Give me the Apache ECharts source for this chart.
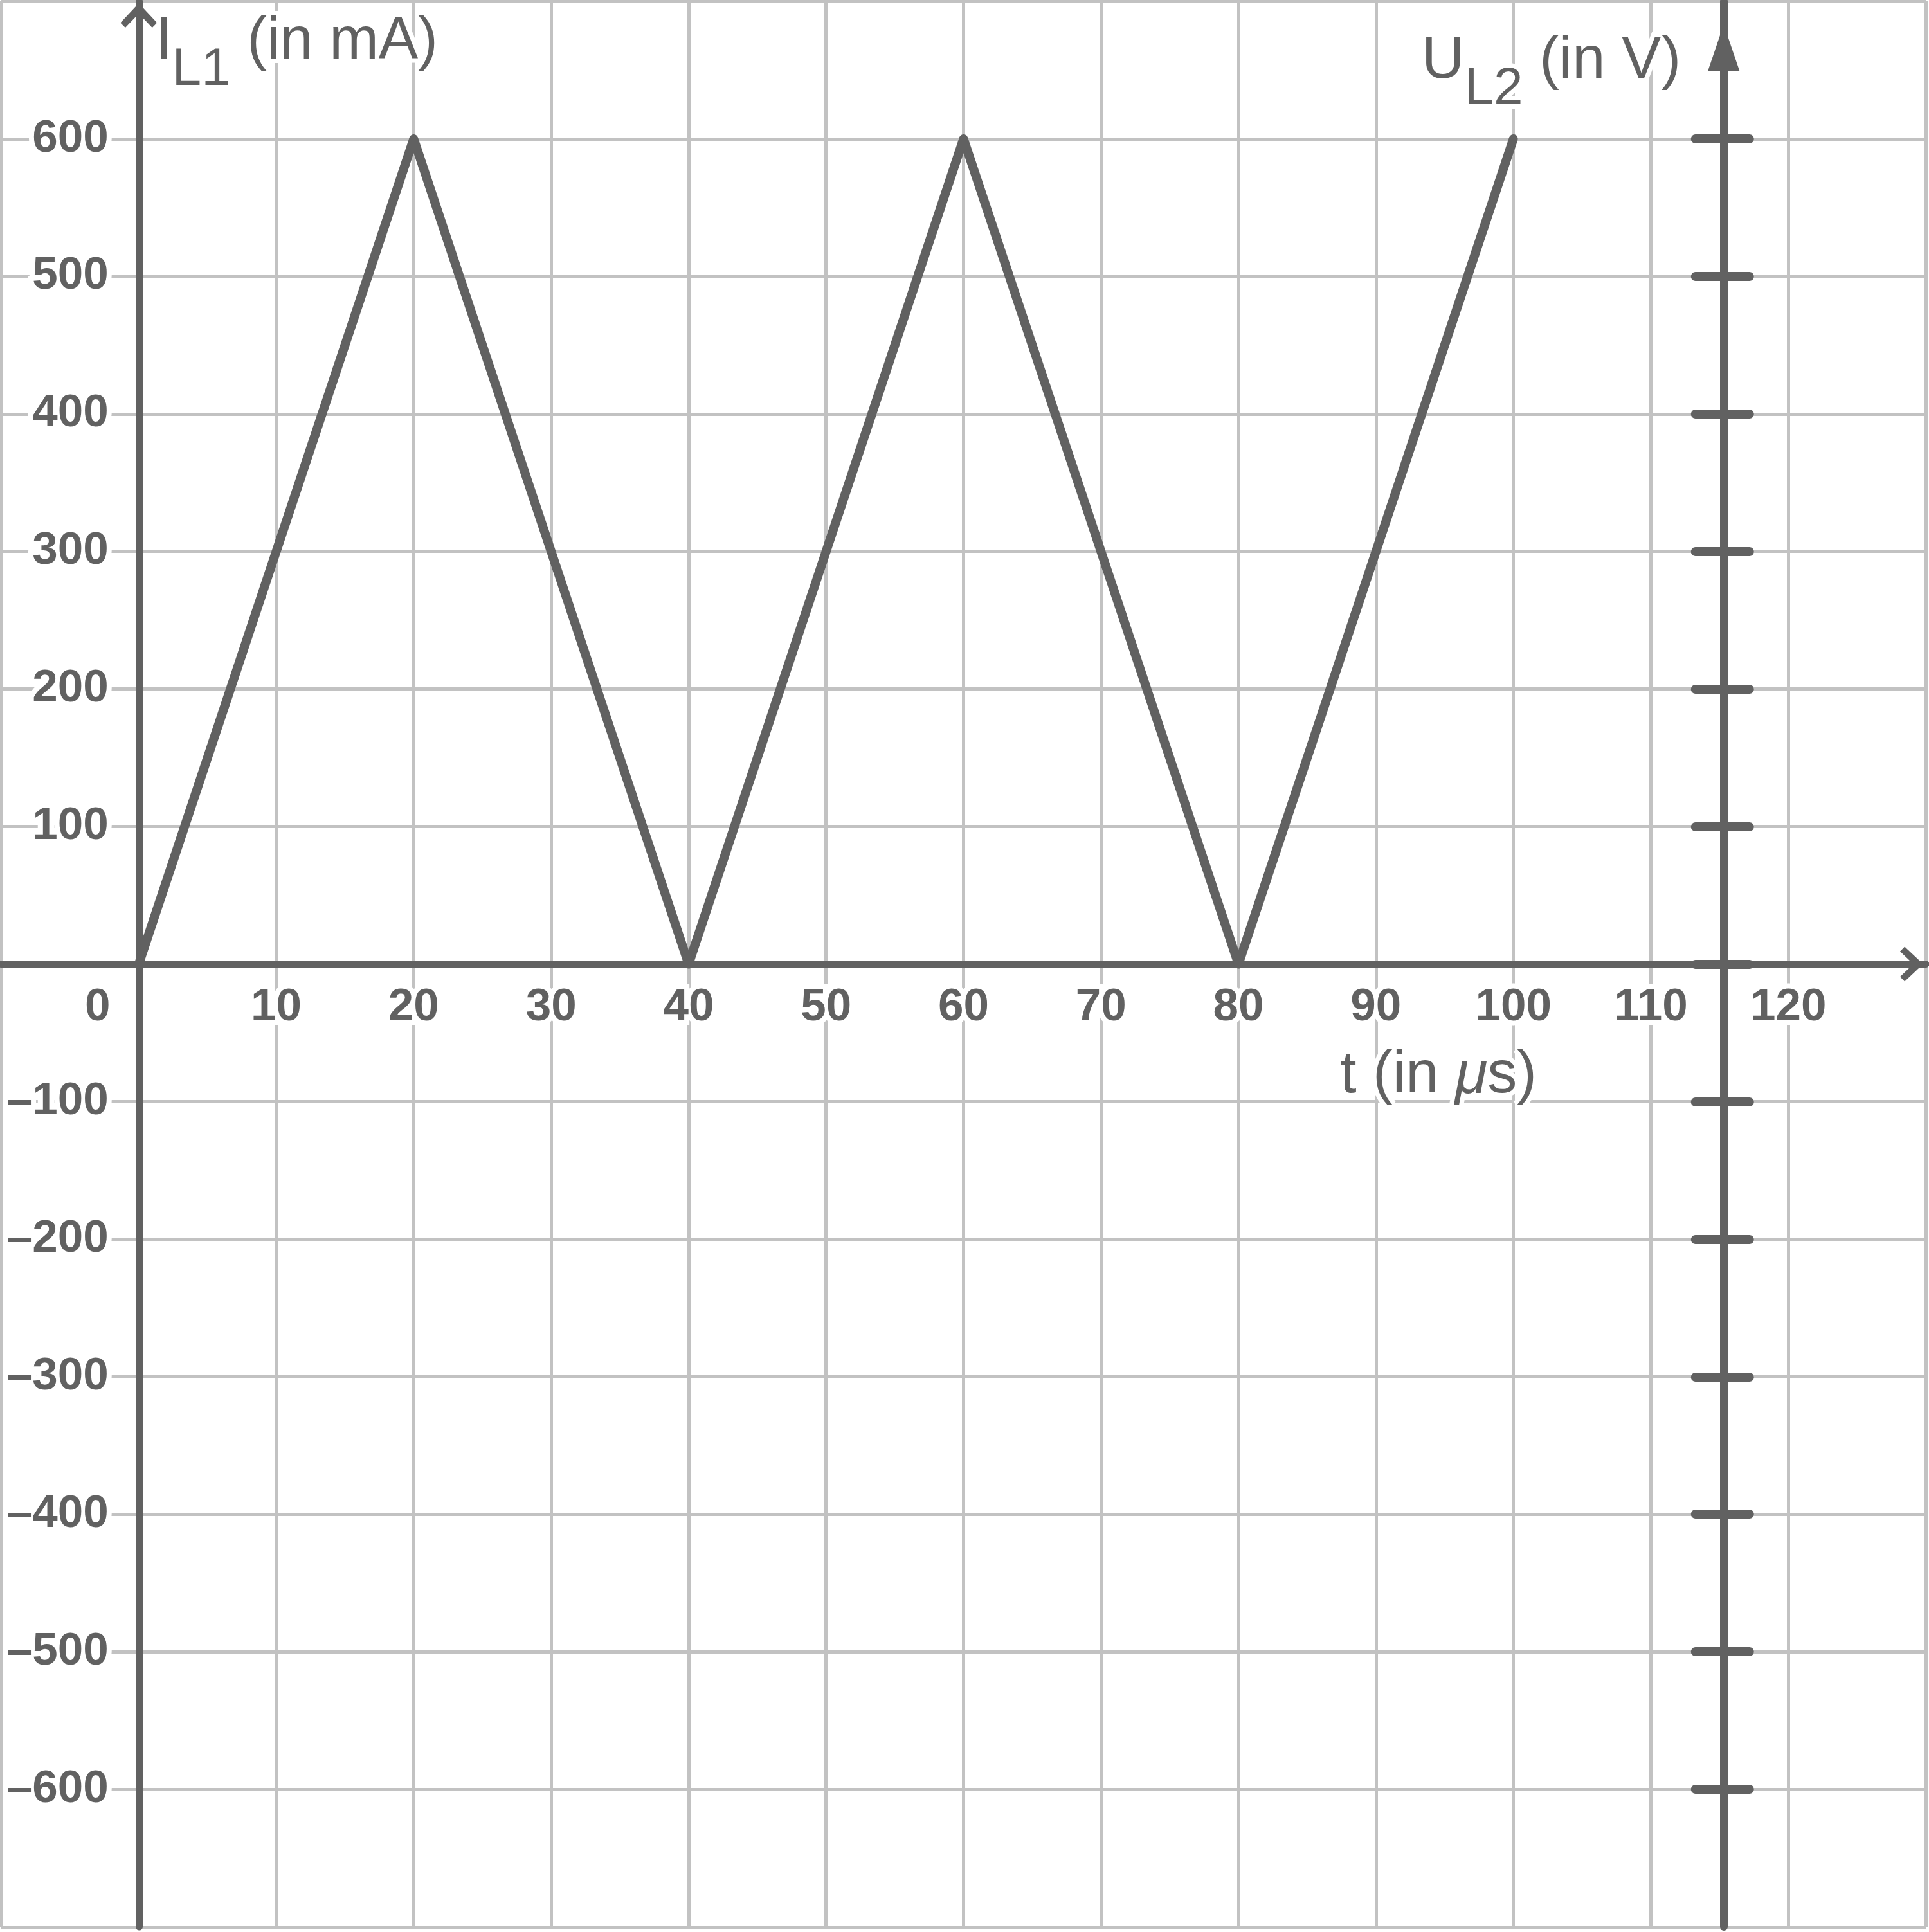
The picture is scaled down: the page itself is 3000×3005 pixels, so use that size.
<!DOCTYPE html>
<html>
<head>
<meta charset="utf-8">
<script src="https://cdn.jsdelivr.net/npm/echarts@6/dist/echarts.min.js"></script>
<style>
html, body { margin: 0; padding: 0; background: #fff; }
#chart { width: 3000px; height: 3005px; }
</style>
</head>
<body>
<div id="chart"></div>
<script>
// triangle current I_L1 over time t
var tValues = [0, 20, 40, 60, 80, 100];
var currentValues = [0, 600, 0, 600, 0, 600];

// tick labels
var xTickLabels = [0, 10, 20, 30, 40, 50, 60, 70, 80, 90, 100, 110, 120];
var yTickLabels = [600, 500, 400, 300, 200, 100, -100, -200, -300, -400, -500, -600];
var uTickValues = [600, 500, 400, 300, 200, 100, 0, -100, -200, -300, -400, -500, -600];

var X_MIN = -10, X_MAX = 130, Y_MIN = -700, Y_MAX = 700;
var U_AXIS_X = 115.3;   // where the U_L2 axis stands, in t units

var DARK = '#616161';
var GRIDC = '#c2c2c2';
var FONT = 'Liberation Sans';
var GRID = { left: 2, right: 5, top: 2, bottom: 8, outerBoundsMode: 'none', containLabel: false };

// open arrow head, pointing up
var chevron = 'path://M30,0 L60,32 L52,40 L30,17 L8,40 L0,32 Z';

var myChart = echarts.init(document.getElementById('chart'));
var gridW = myChart.getWidth() - GRID.left - GRID.right;
var gridH = myChart.getHeight() - GRID.top - GRID.bottom;
// axes are moved into the plot by offsets so they cross at t = 0, I = 0
var uOffset = -((X_MAX - U_AXIS_X) / (X_MAX - X_MIN) * gridW);
var yOffset = -((0 - X_MIN) / (X_MAX - X_MIN) * gridW);
var xOffset = -((0 - Y_MIN) / (Y_MAX - Y_MIN) * gridH);

var labelBase = {
    fontFamily: FONT,
    fontSize: 71,
    fontWeight: 'bold',
    color: DARK,
    textBorderColor: '#fff',
    textBorderWidth: 16
};

function uAxis(showLine, inside, len) {
    return {
        type: 'value',
        position: 'right',
        offset: uOffset,
        min: Y_MIN,
        max: Y_MAX,
        interval: 100,
        axisLine: {
            show: showLine,
            onZero: false,
            symbol: ['none', 'triangle'],
            symbolSize: [49, 72],
            symbolOffset: [0, -72],
            lineStyle: { color: DARK, width: 12 }
        },
        axisTick: {
            show: true,
            inside: inside,
            length: len,
            customValues: uTickValues,
            lineStyle: { color: DARK, width: 14, cap: 'round' }
        },
        axisLabel: { show: false },
        splitLine: { show: false }
    };
}

var option = {
    animation: false,
    backgroundColor: '#fff',
    grid: GRID,
    xAxis: {
        type: 'value',
        position: 'bottom',
        offset: xOffset,
        min: X_MIN,
        max: X_MAX,
        interval: 10,
        axisLine: {
            onZero: false,
            symbol: ['none', chevron],
            symbolSize: [64, 36],
            symbolOffset: [0, -22],
            lineStyle: { color: DARK, width: 11 }
        },
        axisTick: { show: false },
        splitLine: { show: true, lineStyle: { color: GRIDC, width: 5 } },
        axisLabel: Object.assign({}, labelBase, {
            customValues: xTickLabels,
            margin: 32,
            formatter: function (v) {
                return v === 0 ? '{o|0}' : String(v);
            },
            rich: {
                o: Object.assign({}, labelBase, { padding: [0, 128, 0, 0] })
            }
        })
    },
    yAxis: [
        {
            type: 'value',
            position: 'left',
            offset: yOffset,
            min: Y_MIN,
            max: Y_MAX,
            interval: 100,
            axisLine: {
                onZero: false,
                symbol: ['none', chevron],
                symbolSize: [64, 38],
                symbolOffset: [0, -22],
                lineStyle: { color: DARK, width: 11 }
            },
            axisTick: { show: false },
            splitLine: { show: true, lineStyle: { color: GRIDC, width: 5 } },
            axisLabel: Object.assign({}, labelBase, {
                customValues: yTickLabels,
                margin: 47,
                formatter: function (v) {
                    return v < 0 ? '\u2013' + (-v) : String(v);
                }
            })
        },
        uAxis(true, false, 40),
        uAxis(false, true, 44)
    ],
    graphic: [
        {
            type: 'text', x: 242, y: 20, z: 10,
            style: {
                text: '{m|I}{s|L1}{m| (in mA)}',
                fill: DARK, stroke: '#fff', lineWidth: 14,
                rich: {
                    m: { fontFamily: FONT, fontSize: 92, lineHeight: 92, verticalAlign: 'top' },
                    s: { fontFamily: FONT, fontSize: 82, lineHeight: 82, verticalAlign: 'top', padding: [48, 0, 0, 0] }
                }
            }
        },
        {
            type: 'text', x: 2211, y: 50, z: 10,
            style: {
                text: '{m|U}{s|L2}{m| (in V)}',
                fill: DARK, stroke: '#fff', lineWidth: 14,
                rich: {
                    m: { fontFamily: FONT, fontSize: 92, lineHeight: 92, verticalAlign: 'top' },
                    s: { fontFamily: FONT, fontSize: 82, lineHeight: 82, verticalAlign: 'top', padding: [48, 0, 0, 0] }
                }
            }
        },
        {
            type: 'text', x: 2084, y: 1628, z: 10,
            style: {
                text: '{m|t (in }{i|\u03bc}{m|s)}',
                fill: DARK, stroke: '#fff', lineWidth: 14,
                rich: {
                    m: { fontFamily: FONT, fontSize: 92, lineHeight: 92, verticalAlign: 'top' },
                    i: { fontFamily: FONT, fontSize: 92, lineHeight: 92, verticalAlign: 'top', fontStyle: 'italic' }
                }
            }
        }
    ],
    series: [
        {
            name: 'I_L1',
            type: 'line',
            data: tValues.map(function (t, i) { return [t, currentValues[i]]; }),
            showSymbol: false,
            symbol: 'none',
            lineStyle: { color: DARK, width: 14, cap: 'round', join: 'round' },
            z: 5
        }
    ]
};
myChart.setOption(option);
</script>
</body>
</html>
